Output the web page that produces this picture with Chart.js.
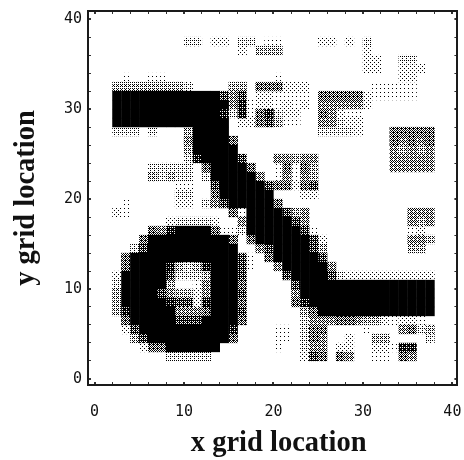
<!DOCTYPE html>
<html><head><meta charset="utf-8">
<style>html,body{margin:0;padding:0;background:#fff}#w{width:464px;height:460px}</style>
<script src="https://cdn.jsdelivr.net/npm/chart.js@4"></script></head>
<body><div id="w"><canvas id="c" width="464" height="460"></canvas></div>
<script>
const gridSize = 40;
const majorTicks = [0, 10, 20, 30, 40];
const xTitle = "x grid location";
const yTitle = "y grid location";
// intensity 0 (white) .. 9 (black); first row is y = 39, last is y = 0
const intensityRows = [
"0000000000 0000000000 0000000000 0000000000",
"0000000000 0000000000 0000000000 0000000000",
"0000000000 3302203301 1000022020 3000000000",
"0000000000 0000002044 4000000000 2000000000",
"0000000000 0000000000 0000000000 2200330000",
"0000000000 0000000000 0000000000 2200222000",
"0001001100 0000000000 1000000000 0000220000",
"0044444444 3000044066 6222000000 0111110000",
"0099999999 9999757022 1111066666 2111110000",
"0099999999 9999958122 1212055555 2000000000",
"0099999999 9999838168 3220065211 0000000000",
"0099999999 9999902267 4110055322 0000000000",
"0033303000 4999900000 0000033332 0006666600",
"0000000000 5999960000 0000000000 0006565600",
"0000000000 4999990000 0000000000 0005454500",
"0000000000 3899997000 5545500000 0005555500",
"0000003333 3069999600 1616400000 0005555500",
"0000004343 3039999950 1515400000 0000000000",
"0000000001 1007999997 6626700000 0000000000",
"0000000003 3006999999 0002200000 0000000000",
"0001000002 2035799999 6000000000 0000000000",
"0021000000 0000061999 9745000000 0000055500",
"0000000023 3332005999 9975000000 0000054500",
"0000006589 9996113999 9997100000 0000012000",
"0000069999 9999960699 9999720000 0000055400",
"0000379999 9999990057 9999740000 0000044000",
"0006999999 9999997106 9999970000 0000000000",
"0006999984 3489997100 5999995000 0000000000",
"0029999973 3349997000 0799997322 2222222200",
"0039999940 0159996000 0079999999 9999999900",
"0049999754 4259997000 0059999999 9999999900",
"0049999987 7289996000 0068999999 9999999900",
"0048999995 5569997000 0004699999 9999999900",
"0006999997 7799996000 0003555665 4421221000",
"0002799999 9999980000 1103660000 1000563400",
"0000479999 9999960000 1103650020 0440000300",
"0000026699 9999000000 1003550220 0221880000",
"0000000033 3330000000 0002760650 0110650000",
"0000000000 0000000000 0000000000 0000000000",
"0000000000 0000000000 0000000000 0000000000"
];
const levels = [9, 8, 7, 6, 5, 4, 3, 2, 1];

const bayer = [0,8,2,10,12,4,14,6,3,11,1,9,15,7,13,5];
function halftone(level) {
  const cv = document.createElement('canvas');
  cv.width = cv.height = 4;
  const g = cv.getContext('2d');
  g.fillStyle = '#fff'; g.fillRect(0, 0, 4, 4);
  g.fillStyle = '#000';
  const coverage = Math.pow(level / 9, 1.5);
  bayer.forEach((t, k) => {
    if ((t + 0.5) / 16 < coverage) g.fillRect(k % 4, Math.floor(k / 4), 1, 1);
  });
  return document.getElementById('c').getContext('2d').createPattern(cv, 'repeat');
}
function cellsAt(level) {
  const pts = [];
  intensityRows.forEach((row, r) => {
    row.replace(/ /g, '').split('').forEach((ch, i) => {
      if (+ch === level) pts.push({x: i + 0.5, y: gridSize - 1 - r + 0.5});
    });
  });
  return pts;
}
const tickFont = {family: "'DejaVu Sans Mono'", size: 15};
const titleFont = {family: "'Liberation Serif'", size: 28.5, weight: 'bold'};
const axisColor = '#1a1a1a';
const tickWidth = c => (c.tick && c.tick.value % 10 === 0) ? 2 : 1;
const grid = {drawOnChartArea: false, drawTicks: true, tickLength: -3, color: '#333', lineWidth: tickWidth};
const border = {display: true, color: axisColor, width: 2};
const labelOnlyMajor = v => majorTicks.includes(v) ? String(v) : '';
const fixSize = (prop, val) => s => {
  s[prop] = val;
  s.paddingLeft = s.paddingRight = s.paddingTop = s.paddingBottom = 0;
};
const shiftXTitle = s => {
  fixSize('height', 75)(s);
  if (s._titleShifted) return;
  s._titleShifted = true;
  const draw = s.drawTitle;
  s.drawTitle = function () {
    this.ctx.save();
    this.ctx.translate(6, 1);
    draw.call(this);
    this.ctx.restore();
  };
};
const XR = {min: -0.73, max: 40.56}, YR = {min: -0.67, max: 40.9};

new Chart(document.getElementById('c'), {
  type: 'scatter',
  data: {datasets: levels.map(l => ({
    label: 'level ' + l,
    data: cellsAt(l),
    pointStyle: 'rect',
    pointRadius: 6.6,
    pointHoverRadius: 6.6,
    pointBorderWidth: 0,
    pointBackgroundColor: halftone(l),
    clip: false
  }))},
  options: {
    responsive: false,
    animation: false,
    layout: {padding: 0},
    plugins: {legend: {display: false}, tooltip: {enabled: false}},
    scales: {
      x: {type: 'linear', position: 'bottom', ...XR, afterFit: shiftXTitle, grid, border,
        title: {display: true, text: xTitle, font: titleFont, color: '#111', padding: {top: 0, bottom: 0}},
        ticks: {stepSize: 2, includeBounds: false, autoSkip: false, maxRotation: 0, font: tickFont, color: '#111', padding: 21, callback: labelOnlyMajor}},
      y: {type: 'linear', position: 'left', ...YR, afterFit: fixSize('width', 88), grid, border,
        title: {display: true, text: yTitle, font: titleFont, color: '#111', padding: {top: 10, bottom: 0}},
        ticks: {stepSize: 2, includeBounds: false, autoSkip: false, font: tickFont, color: '#111', padding: 9, callback: labelOnlyMajor}},
      x2: {type: 'linear', position: 'top', ...XR, afterFit: fixSize('height', 11), grid, border,
        ticks: {stepSize: 2, includeBounds: false, autoSkip: false, callback: () => ''}},
      y2: {type: 'linear', position: 'right', ...YR, afterFit: fixSize('width', 6), grid, border,
        ticks: {stepSize: 2, includeBounds: false, autoSkip: false, callback: () => ''}}
    }
  }
});
</script></body></html>
